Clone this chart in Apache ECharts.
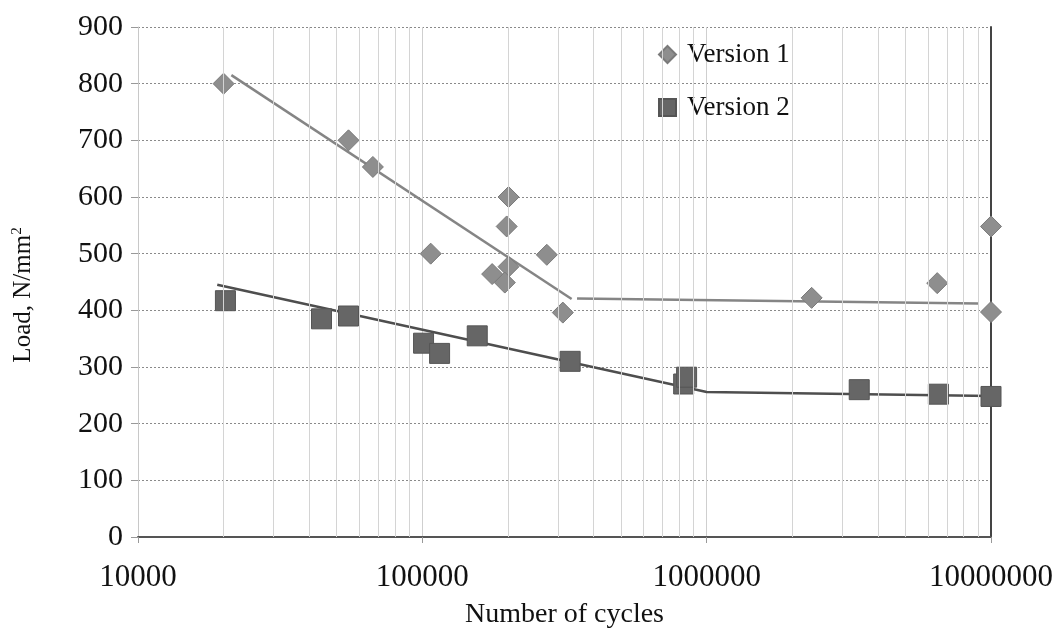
<!DOCTYPE html>
<html>
<head>
<meta charset="utf-8">
<script src="https://cdn.jsdelivr.net/npm/echarts@6/dist/echarts.min.js"></script>
<style>html,body{margin:0;padding:0;background:#fff}#c{width:1059px;height:628px}</style>
</head>
<body>
<div id="c"></div>
<script>
// Version 1 (diamonds)
var v1X = [20000, 55000, 67000, 107000, 176000, 201000, 198000, 201000, 195000, 274000, 312000, 2340000, 6470000, 10000000, 10000000];
var v1Y = [800, 700, 653, 500, 464, 600, 548, 477, 449, 498, 396, 422, 448, 548, 397];
// Version 2 (squares)
var v2X = [20300, 44200, 55000, 101000, 115000, 156000, 331000, 830000, 850000, 3440000, 6530000, 10000000];
var v2Y = [417, 385, 390, 342, 324, 355, 310, 270, 282, 260, 252, 248];
// trend lines
var fit1aX = [21300, 335000], fit1aY = [815, 420];
var fit1bX = [350000, 9000000], fit1bY = [421, 412];
var fit2X = [19000, 1000000, 10000000], fit2Y = [445, 256, 249];
// axis ticks
var yTicks = [0, 100, 200, 300, 400, 500, 600, 700, 800, 900];
var xMajor = [10000, 100000, 1000000, 10000000];
var xMinor = [20000,30000,40000,50000,60000,70000,80000,90000,
              200000,300000,400000,500000,600000,700000,800000,900000,
              2000000,3000000,4000000,5000000,6000000,7000000,8000000,9000000];

function zip(xs, ys){ return xs.map(function(x,i){ return [x, ys[i]]; }); }
var FF = "'Liberation Serif','Times New Roman',serif";

var chart = echarts.init(document.getElementById('c'), null, {renderer:'canvas'});
chart.setOption({
  animation: false,
  backgroundColor: '#fff',
  textStyle: {fontFamily: FF, color: '#111'},
  grid: {left: 138, right: 68, top: 27, bottom: 91, containLabel: false, outerBoundsMode: 'none'},
  legend: {
    orient: 'vertical', left: 653, top: 36, itemGap: 26,
    itemWidth: 17, itemHeight: 17,
    textStyle: {fontFamily: FF, fontSize: 27, color: '#111', padding: [0, 0, 0, 6]},
    data: [{name: 'Version 1', icon: 'diamond'}, {name: 'Version 2', icon: 'rect'}]
  },
  xAxis: [{
    type: 'log', logBase: 10, min: xMajor[0], max: xMajor[xMajor.length-1],
    name: 'Number of cycles', nameLocation: 'middle', nameGap: 64,
    nameTextStyle: {fontFamily: FF, fontSize: 28, color: '#111'},
    axisLine: {show: true, lineStyle: {color: '#c8c8c8', width: 1}},
    axisTick: {show: true, length: 6, lineStyle: {color: '#999'}},
    axisLabel: {fontFamily: FF, fontSize: 31, color: '#111', margin: 25,
      formatter: function(v){ return String(Math.round(v)); }},
    splitLine: {show: true, lineStyle: {color: '#cfcfcf', width: 1}}
  }, {
    type: 'log', logBase: 10, min: xMajor[0], max: xMajor[xMajor.length-1], position: 'top',
    axisLine: {show: true, lineStyle: {color: '#555', width: 2}},
    axisTick: {show: false}, axisLabel: {show: false}, splitLine: {show: false}
  }],
  yAxis: [{
    type: 'value', min: yTicks[0], max: yTicks[yTicks.length-1], interval: 100,
    name: 'Load, N/mm{s|2}', nameLocation: 'middle', nameGap: 102,
    nameTextStyle: {fontFamily: FF, fontSize: 25, color: '#111', padding: [0, 26, 0, 0],
      rich: {s: {fontFamily: FF, fontSize: 15, color: '#111', padding: [0, 0, 11, 0]}}},
    axisLine: {show: true, lineStyle: {color: '#c8c8c8', width: 1}},
    axisTick: {show: true, length: 7, lineStyle: {color: '#999'}},
    axisLabel: {fontFamily: FF, fontSize: 30, color: '#111', margin: 15},
    splitLine: {show: true, lineStyle: {color: '#8a8a8a', width: 1, type: [2, 2]}}
  }, {
    type: 'value', min: yTicks[0], max: yTicks[yTicks.length-1], interval: 100, position: 'right',
    axisLine: {show: true, lineStyle: {color: '#444', width: 2}},
    axisTick: {show: false}, axisLabel: {show: false}, splitLine: {show: false}
  }],
  series: [
    {
      name: 'grid-minor', type: 'line', data: [], silent: true,
      markLine: {
        silent: true, symbol: 'none', label: {show: false},
        lineStyle: {color: '#d4d4d4', width: 1, type: 'solid'},
        data: xMinor.map(function(v){ return {xAxis: v}; })
      }
    },
    {type: 'line', data: zip(fit1aX, fit1aY), symbol: 'none', silent: true,
     lineStyle: {color: '#858585', width: 2.5}, z: 3},
    {type: 'line', data: zip(fit1bX, fit1bY), symbol: 'none', silent: true,
     lineStyle: {color: '#858585', width: 2.5}, z: 3},
    {type: 'line', data: zip(fit2X, fit2Y), symbol: 'none', silent: true,
     lineStyle: {color: '#4e4e4e', width: 2.5}, z: 3},
    {name: 'Version 1', type: 'scatter', symbol: 'diamond', symbolSize: 21,
     data: zip(v1X, v1Y), z: 4,
     itemStyle: {color: '#8e8e8e', borderColor: '#7a7a7a', borderWidth: 1, opacity: 1}},
    {name: 'Version 2', type: 'scatter', symbol: 'rect', symbolSize: 20,
     data: zip(v2X, v2Y), z: 4,
     itemStyle: {color: '#666666', borderColor: '#555', borderWidth: 1, opacity: 1}}
  ]
});
</script>
</body>
</html>
